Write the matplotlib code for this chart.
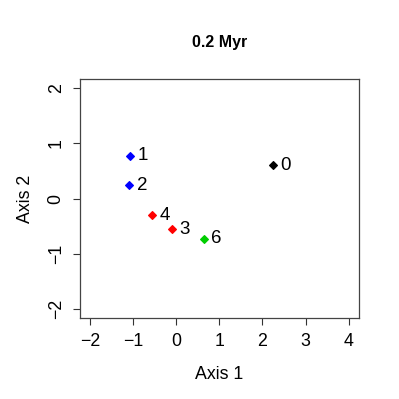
import matplotlib
matplotlib.use("Agg")
import matplotlib.pyplot as plt

plt.rcParams['font.family'] = ['Liberation Sans', 'DejaVu Sans']

labels = ["0", "1", "2", "3", "4", "6"]
axis1 = [2.24, -1.08, -1.10, -0.10, -0.57, 0.63]
axis2 = [0.60, 0.77, 0.24, -0.56, -0.30, -0.73]
colors = ["black", "blue", "blue", "red", "red", "#00CD00"]
xticks = [-2, -1, 0, 1, 2, 3, 4]
yticks = [-2, -1, 0, 1, 2]
title = "0.2 Myr"

fig = plt.figure(figsize=(3.99, 3.99), dpi=100)
ax = fig.add_axes([0.2005, 0.203, 0.699, 0.599])

for x, y, lab, c in zip(axis1, axis2, labels, colors):
    ax.plot(x, y, marker='D', color=c, markersize=4.3, markeredgewidth=0.8,
            linestyle='none')
    ax.annotate(lab, (x, y), xytext=(5.5, 0), textcoords='offset points',
                ha='left', va='center', fontsize=13.5)

ax.set_xlim(-2.24, 4.24)
ax.set_ylim(-2.16, 2.16)
ax.set_xticks(xticks)
ax.set_yticks(yticks)
ax.set_xticklabels([str(t).replace('-', '\u2212') for t in xticks])
ax.set_yticklabels([str(t).replace('-', '\u2212') for t in yticks],
                   rotation=90, va='center')
ax.tick_params(direction='out', length=5, width=0.8, labelsize=12.8, pad=6,
               color='#333333')
for s in ax.spines.values():
    s.set_color('#444444')
    s.set_linewidth(0.9)

ax.set_xlabel("Axis 1", fontsize=12.8, labelpad=11)
ax.set_ylabel("Axis 2", fontsize=12.8, labelpad=10)
fig.text(219.5 / 399, 1 - 42 / 399, title, ha='center', va='center',
         fontsize=11.5, fontweight='bold')

fig.savefig("out.png", dpi=100)
